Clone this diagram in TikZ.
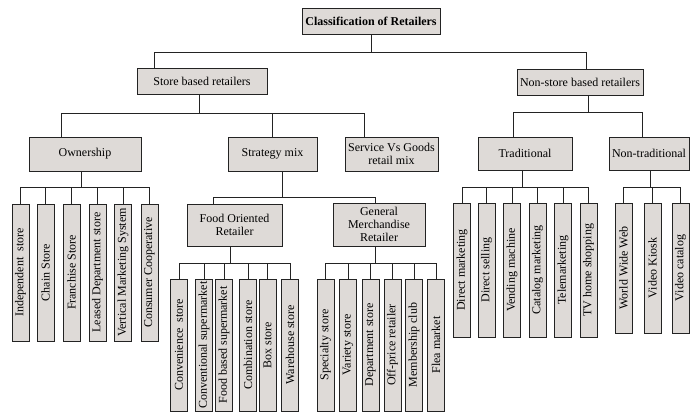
\documentclass[tikz,border=0pt]{standalone}
\usepackage{fontspec}
\setmainfont{Liberation Serif}
\definecolor{boxfill}{RGB}{222,218,215}
\definecolor{ink}{RGB}{35,35,35}
\begin{document}
\begin{tikzpicture}[x=1pt,y=-1pt,
  box/.style={draw=ink, fill=boxfill, line width=1pt, inner sep=1pt, align=center,
              font=\fontsize{12}{13.3}\selectfont},
  leaf/.style={box, rotate=90, minimum height=17pt, inner sep=0pt},
  conn/.style={draw=ink, line width=1pt}]
\useasboundingbox[fill=white] (0,0) rectangle (690,413);

% bus coordinates
\coordinate (tB) at (371,52);
\coordinate (sB) at (199,113);
\coordinate (nB) at (588,112);
\coordinate (oB) at (81,187);
\coordinate (stB) at (282,197);
\coordinate (fB) at (230,263);
\coordinate (gB) at (375,263);
\coordinate (trB) at (522,187);
\coordinate (ntB) at (650,187);

% main boxes
\node[box, minimum width=138pt, minimum height=26pt, font=\bfseries\fontsize{12}{13.3}\selectfont] (title) at (371,21) {Classification of Retailers};
\node[box, minimum width=130pt, minimum height=26pt] (store) at (202,81) {Store based retailers};
\node[box, minimum width=126pt, minimum height=26pt] (nonstore) at (580,82) {Non-store based retailers};
\node[box, minimum width=112pt, minimum height=34pt] (own) at (85,154) {Ownership};
\node[box, minimum width=89pt, minimum height=34pt] (strat) at (272.5,154) {Strategy mix};
\node[box, minimum width=93pt, minimum height=34pt] (serv) at (391.5,154) {Service Vs Goods\\retail mix};
\node[box, minimum width=94pt, minimum height=33pt] (trad) at (525,153.5) {Traditional};
\node[box, minimum width=80pt, minimum height=33pt] (ntrad) at (649,153.5) {Non-traditional};
\node[box, minimum width=95pt, minimum height=42pt] (food) at (234.5,225) {Food Oriented\\Retailer};
\node[box, minimum width=92pt, minimum height=43pt] (gen) at (379,224.5) {General\\Merchandise\\Retailer};

% upper connectors
\draw[conn] (title.south) -- (tB);
\draw[conn] ([xshift=18pt]store.north west) |- (tB);
\draw[conn] ([xshift=6pt]nonstore.north) |- (tB);
\draw[conn] ([xshift=-3pt]store.south) -- (sB);
\draw[conn] ([xshift=33pt]own.north west) |- (sB);
\draw[conn] (strat.north) |- (sB);
\draw[conn] ([xshift=20pt]serv.north west) |- (sB);
\draw[conn] ([xshift=8pt]nonstore.south) -- (nB);
\draw[conn] ([xshift=-12pt]trad.north) |- (nB);
\draw[conn] ([xshift=-6.5pt]ntrad.north) |- (nB);
\draw[conn] (own.south -| oB) -- (oB);
\draw[conn] (strat.south -| stB) -- (stB);
\draw[conn] ([xshift=-21.5pt]food.north) |- (stB);
\draw[conn] ([xshift=-4pt]gen.north) |- (stB);
\draw[conn] (food.south -| fB) -- (fB);
\draw[conn] (gen.south -| gB) -- (gB);
\draw[conn] (trad.south -| trB) -- (trB);
\draw[conn] (ntrad.south -| ntB) -- (ntB);

% ownership leaves
\foreach \x/\n/\t in {20.5/o1/Independent\ \ store, 45.5/o2/Chain Store, 71.5/o3/Franchise Store,
    97.5/o4/Leased Department store, 123/o5/Vertical Marketing System, 149.5/o6/Consumer Cooperative}{
  \node[leaf, minimum width=137pt] (\n) at (\x,272.5) {\t};
  \draw[conn] (\n.east) |- (oB);
}
% food leaves
\foreach \x/\n/\t in {179/f1/Convenience\ \ store, 204/f2/Conventional supermarket, 224/f3/Food based supermarket,
    248/f4/Combination store, 267.5/f5/Box store, 290/f6/Warehouse store}{
  \node[leaf, minimum width=132pt] (\n) at (\x,345) {\t};
  \draw[conn] (\n.east) |- (fB);
}
% general merchandise leaves
\foreach \x/\n/\t in {325.5/g1/Specialty store, 348/g2/Variety store, 370.5/g3/Department store,
    392.5/g4/Off-price retailer, 414/g5/Membership club, 436/g6/Flea market}{
  \node[leaf, minimum width=132pt] (\n) at (\x,345) {\t};
  \draw[conn] (\n.east) |- (gB);
}
% traditional leaves
\foreach \x/\n/\t in {462/t1/Direct marketing, 486.5/t2/Direct selling, 512/t3/Vending machine,
    537.5/t4/Catalog marketing, 563/t5/Telemarketing, 588.5/t6/TV home shopping}{
  \node[leaf, minimum width=134pt] (\n) at (\x,270) {\t};
  \draw[conn] (\n.east) |- (trB);
}
% non-traditional leaves
\foreach \x/\n/\t in {623.5/n1/World Wide Web, 652.5/n2/Video Kiosk, 680.5/n3/Video catalog}{
  \node[leaf, minimum width=130pt] (\n) at (\x,268) {\t};
  \draw[conn] (\n.east) |- (ntB);
}
\end{tikzpicture}
\end{document}
